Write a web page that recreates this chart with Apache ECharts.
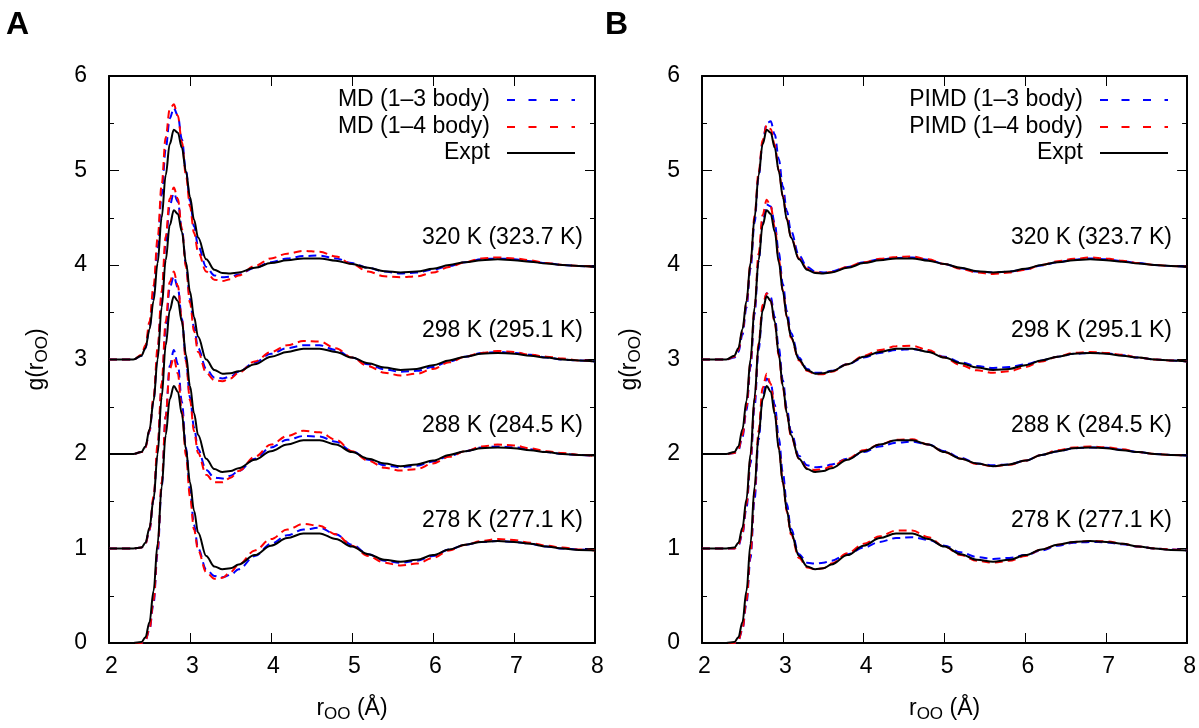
<!DOCTYPE html>
<html>
<head>
<meta charset="utf-8">
<script src="https://cdn.jsdelivr.net/npm/echarts@6/dist/echarts.min.js"></script>
<style>
html,body{margin:0;padding:0;background:#fff;}
#chart{width:1199px;height:728px;}
</style>
</head>
<body>
<div id="chart"></div>
<script>
// r grid (Å)
const R = [2.0, 2.3, 2.4, 2.45, 2.5, 2.55, 2.6, 2.65, 2.7, 2.75, 2.8, 2.85, 2.9, 2.95, 3.0, 3.05, 3.1, 3.2, 3.3, 3.4, 3.5, 3.6, 3.8, 4.0, 4.2, 4.4, 4.6, 4.8, 5.0, 5.2, 5.4, 5.6, 5.8, 6.0, 6.2, 6.4, 6.6, 6.8, 7.0, 7.2, 7.4, 7.6, 7.8, 8.0];

const TEMP_LABELS = ['278 K (277.1 K)', '288 K (284.5 K)', '298 K (295.1 K)', '320 K (323.7 K)'];
const OFFSETS = [0, 1, 2, 3];
const X_TICKS = [2, 3, 4, 5, 6, 7, 8];
const Y_TICKS = [0, 1, 2, 3, 4, 5, 6];

// Experiment
const expt278 = [0,0,0.01,0.06,0.22,0.55,1.05,1.65,2.2,2.58,2.72,2.66,2.42,2.05,1.7,1.4,1.17,0.92,0.81,0.78,0.79,0.83,0.93,1.03,1.11,1.16,1.16,1.1,1.02,0.94,0.88,0.86,0.88,0.93,0.99,1.04,1.07,1.08,1.07,1.05,1.02,1.0,0.985,0.98];
const expt288 = [0,0,0.01,0.06,0.22,0.52,1.0,1.6,2.15,2.52,2.67,2.62,2.4,2.05,1.72,1.43,1.2,0.95,0.84,0.81,0.82,0.85,0.94,1.03,1.1,1.145,1.145,1.1,1.02,0.95,0.9,0.87,0.89,0.93,0.99,1.03,1.06,1.07,1.06,1.04,1.02,1.0,0.99,0.985];
const expt298 = [0,0,0.02,0.08,0.26,0.56,1.0,1.55,2.05,2.42,2.58,2.54,2.35,2.03,1.72,1.45,1.24,1.0,0.89,0.85,0.855,0.875,0.95,1.03,1.08,1.115,1.115,1.08,1.02,0.96,0.915,0.89,0.9,0.94,0.99,1.03,1.06,1.07,1.06,1.04,1.02,1.0,0.99,0.98];
const expt320 = [0,0,0.04,0.12,0.32,0.62,1.02,1.5,1.95,2.28,2.43,2.4,2.24,1.99,1.72,1.48,1.29,1.06,0.95,0.915,0.91,0.92,0.97,1.02,1.05,1.07,1.07,1.045,1.01,0.97,0.935,0.92,0.93,0.96,1.0,1.03,1.05,1.06,1.05,1.035,1.015,1.0,0.99,0.98];

// MD (1-3 body)
const md13_278 = [0,0,0,0.03,0.14,0.42,0.95,1.65,2.4,2.93,3.1,2.95,2.55,2.07,1.62,1.25,1.0,0.78,0.71,0.695,0.72,0.78,0.92,1.05,1.14,1.2,1.22,1.15,1.04,0.94,0.87,0.85,0.87,0.92,0.99,1.04,1.07,1.08,1.07,1.05,1.02,1.0,0.99,0.98];
const md13_288 = [0,0,0.01,0.05,0.19,0.52,1.05,1.7,2.33,2.76,2.88,2.76,2.43,2.0,1.6,1.28,1.05,0.83,0.75,0.74,0.77,0.82,0.95,1.07,1.15,1.19,1.185,1.13,1.03,0.94,0.88,0.86,0.875,0.92,0.98,1.03,1.07,1.08,1.07,1.05,1.02,1.0,0.99,0.98];
const md13_298 = [0,0,0.02,0.07,0.24,0.57,1.07,1.66,2.23,2.63,2.76,2.67,2.38,2.0,1.64,1.34,1.12,0.9,0.81,0.8,0.82,0.87,0.97,1.06,1.12,1.15,1.15,1.1,1.02,0.95,0.895,0.87,0.88,0.92,0.98,1.03,1.07,1.08,1.07,1.05,1.02,1.0,0.99,0.98];
const md13_320 = [0,0,0.04,0.12,0.34,0.7,1.18,1.74,2.23,2.55,2.66,2.58,2.33,2.0,1.68,1.41,1.2,0.98,0.89,0.87,0.875,0.9,0.97,1.03,1.07,1.095,1.1,1.07,1.02,0.97,0.93,0.91,0.92,0.95,0.99,1.03,1.06,1.07,1.06,1.04,1.02,1.0,0.99,0.98];

// MD (1-4 body)
const md14_278 = [0,0,0,0.03,0.15,0.45,1.0,1.7,2.4,2.9,3.02,2.85,2.45,1.98,1.55,1.2,0.98,0.75,0.68,0.69,0.75,0.83,0.98,1.1,1.2,1.26,1.24,1.15,1.03,0.92,0.85,0.82,0.84,0.9,0.98,1.04,1.08,1.1,1.09,1.06,1.03,1.01,0.99,0.98];
const md14_288 = [0,0,0.01,0.05,0.2,0.55,1.1,1.75,2.4,2.82,2.93,2.78,2.42,1.98,1.57,1.24,1.01,0.78,0.7,0.7,0.75,0.82,0.97,1.1,1.19,1.245,1.23,1.15,1.03,0.93,0.855,0.825,0.84,0.9,0.97,1.03,1.08,1.1,1.09,1.06,1.03,1.01,0.99,0.98];
const md14_298 = [0,0,0.02,0.07,0.25,0.6,1.12,1.72,2.3,2.7,2.82,2.7,2.38,1.98,1.6,1.3,1.08,0.86,0.78,0.77,0.8,0.86,0.98,1.08,1.15,1.195,1.19,1.12,1.02,0.93,0.86,0.83,0.85,0.9,0.97,1.03,1.07,1.09,1.08,1.05,1.03,1.01,0.99,0.98];
const md14_320 = [0,0,0.05,0.15,0.4,0.78,1.28,1.85,2.35,2.65,2.7,2.58,2.3,1.95,1.62,1.34,1.14,0.93,0.845,0.83,0.85,0.89,0.99,1.07,1.12,1.15,1.14,1.09,1.01,0.93,0.88,0.87,0.88,0.92,0.98,1.03,1.07,1.08,1.07,1.05,1.02,1.0,0.99,0.98];

// PIMD (1-3 body)
const pimd13_278 = [0,0,0,0.03,0.14,0.42,0.9,1.52,2.15,2.6,2.8,2.75,2.52,2.17,1.8,1.47,1.21,0.94,0.85,0.84,0.85,0.87,0.94,1.01,1.07,1.11,1.12,1.09,1.03,0.96,0.91,0.89,0.9,0.93,0.98,1.03,1.06,1.07,1.065,1.045,1.02,1.0,0.99,0.98];
const pimd13_288 = [0,0,0,0.03,0.15,0.43,0.9,1.5,2.1,2.53,2.7,2.66,2.45,2.12,1.78,1.48,1.24,0.98,0.88,0.86,0.865,0.89,0.95,1.02,1.08,1.12,1.13,1.1,1.03,0.96,0.9,0.88,0.89,0.93,0.99,1.03,1.06,1.07,1.065,1.045,1.02,1.0,0.99,0.985];
const pimd13_298 = [0,0,0.01,0.04,0.18,0.46,0.92,1.48,2.04,2.46,2.64,2.62,2.44,2.13,1.8,1.51,1.28,1.02,0.9,0.86,0.86,0.88,0.95,1.02,1.07,1.1,1.11,1.085,1.03,0.97,0.93,0.91,0.92,0.95,0.99,1.03,1.06,1.07,1.065,1.045,1.02,1.0,0.99,0.98];
const pimd13_320 = [0,0,0.02,0.08,0.26,0.55,0.96,1.45,1.93,2.3,2.5,2.52,2.38,2.12,1.83,1.57,1.36,1.1,0.98,0.93,0.92,0.93,0.98,1.03,1.06,1.075,1.08,1.055,1.01,0.965,0.93,0.92,0.93,0.955,0.995,1.03,1.055,1.07,1.06,1.04,1.02,1.0,0.99,0.98];

// PIMD (1-4 body)
const pimd14_278 = [0,0,0,0.03,0.15,0.45,0.95,1.6,2.25,2.7,2.85,2.74,2.45,2.07,1.7,1.39,1.15,0.9,0.8,0.78,0.79,0.84,0.95,1.05,1.13,1.19,1.19,1.12,1.02,0.93,0.87,0.85,0.87,0.92,0.99,1.04,1.07,1.08,1.075,1.05,1.02,1.0,0.99,0.98];
const pimd14_288 = [0,0,0,0.04,0.17,0.47,0.95,1.57,2.17,2.58,2.7,2.62,2.38,2.04,1.7,1.42,1.19,0.95,0.85,0.83,0.84,0.87,0.95,1.04,1.1,1.15,1.155,1.1,1.02,0.95,0.895,0.87,0.885,0.93,0.99,1.04,1.07,1.08,1.07,1.05,1.02,1.0,0.99,0.985];
const pimd14_298 = [0,0,0.01,0.05,0.2,0.5,0.97,1.55,2.12,2.53,2.69,2.62,2.4,2.06,1.73,1.45,1.23,0.99,0.88,0.845,0.845,0.87,0.95,1.04,1.1,1.14,1.145,1.1,1.02,0.94,0.885,0.86,0.875,0.92,0.98,1.03,1.07,1.08,1.07,1.05,1.02,1.0,0.99,0.98];
const pimd14_320 = [0,0,0.03,0.1,0.3,0.6,1.02,1.52,1.98,2.32,2.48,2.44,2.27,2.0,1.73,1.49,1.3,1.07,0.96,0.92,0.915,0.925,0.98,1.03,1.065,1.085,1.09,1.06,1.01,0.96,0.92,0.905,0.92,0.95,1.0,1.04,1.065,1.08,1.07,1.045,1.02,1.0,0.99,0.98];

const EXPT = [expt278, expt288, expt298, expt320];
const MD13 = [md13_278, md13_288, md13_298, md13_320];
const MD14 = [md14_278, md14_288, md14_298, md14_320];
const PIMD13 = [pimd13_278, pimd13_288, pimd13_298, pimd13_320];
const PIMD14 = [pimd14_278, pimd14_288, pimd14_298, pimd14_320];

const FONT = 'Liberation Sans, Arial, Helvetica, sans-serif';
const BLUE = '#0000ff', RED = '#ff0000', BLACK = '#000000';

function toData(g, off) { return R.map((r, i) => [r, g[i] + off]); }

function lineSeries(name, g, off, color, dashed, axisIdx) {
  return {
    name: name, type: 'line', data: toData(g, off),
    xAxisIndex: axisIdx, yAxisIndex: axisIdx,
    showSymbol: false, symbol: 'none', smooth: 0.35, smoothMonotone: 'x',
    lineStyle: { color: color, width: 2, type: dashed ? [8, 5] : 'solid' },
    itemStyle: { color: color },
    silent: true, animation: false, z: dashed ? 2 : 3
  };
}

const series = [];
[[MD13, MD14, 'MD (1–3 body)', 'MD (1–4 body)', 0], [PIMD13, PIMD14, 'PIMD (1–3 body)', 'PIMD (1–4 body)', 2]].forEach(p => {
  for (let k = 0; k < 4; k++) {
    series.push(lineSeries(p[2], p[0][k], OFFSETS[k], BLUE, true, p[4]));
    series.push(lineSeries(p[3], p[1][k], OFFSETS[k], RED, true, p[4]));
    series.push(lineSeries('Expt', EXPT[k], OFFSETS[k], BLACK, false, p[4]));
  }
});

const grids = [
  { left: 109, top: 76, width: 486, height: 570 },
  { left: 702, top: 76, width: 486, height: 570 }
];

function xAx(gi, pos) {
  const main = pos === 'bottom';
  return {
    type: 'value', gridIndex: gi, position: pos, min: 2, max: 8, interval: 1,
    name: main ? '{a|r}{s|OO}{a| (Å)}' : '', nameLocation: 'middle', nameGap: 51,
    nameTextStyle: { fontFamily: FONT, color: '#000',
      rich: { a: { fontSize: 23, fontFamily: FONT, color: '#000' },
              s: { fontSize: 17, fontFamily: FONT, color: '#000', padding: [12, 0, 0, 0] } } },
    axisLine: { show: true, onZero: false, lineStyle: { color: '#000', width: 2 } },
    axisTick: { show: true, inside: true, length: 10, lineStyle: { color: '#000', width: 1 } },
    axisLabel: { show: main, fontSize: 23, fontFamily: FONT, color: '#000', margin: 12, padding: [0, 0, 0, 5] },
    splitLine: { show: false }
  };
}
function yAx(gi, pos) {
  const main = pos === 'left';
  return {
    type: 'value', gridIndex: gi, position: pos, min: 0, max: 6, interval: 1,
    name: main ? '{a|g(r}{s|OO}{a|)}' : '', nameLocation: 'middle', nameGap: 58, nameRotate: 90,
    nameTextStyle: { fontFamily: FONT, color: '#000',
      rich: { a: { fontSize: 23, fontFamily: FONT, color: '#000' },
              s: { fontSize: 17, fontFamily: FONT, color: '#000', padding: [12, 0, 0, 0] } } },
    axisLine: { show: true, onZero: false, lineStyle: { color: '#000', width: 2 } },
    axisTick: { show: true, inside: true, length: 10, lineStyle: { color: '#000', width: 1 } },
    minorTick: { show: true, splitNumber: 2, length: 5, lineStyle: { color: '#000', width: 1 } },
    axisLabel: { show: main, fontSize: 23, fontFamily: FONT, color: '#000', margin: 22 },
    splitLine: { show: false }
  };
}

// legend sample shapes (68 px wide, 2 px tall)
const DASH_ICON = 'path://M0,0h8v2h-8z M21.5,0h8v2h-8z M43,0h8v2h-8z M64.5,0h3.5v2h-3.5z';
const SOLID_ICON = 'rect';

function legendFor(name, icon, right, top) {
  return {
    data: [{ name: name, icon: icon }], right: right, top: top, orient: 'vertical', align: 'right',
    padding: 0, itemWidth: 68, itemHeight: 2, selectedMode: false,
    textStyle: { fontSize: 23, fontFamily: FONT, color: '#000', padding: [0, 12, 0, 0], lineHeight: 26 }
  };
}

const legends = [
  legendFor('MD (1–3 body)', DASH_ICON, 624, 87), legendFor('MD (1–4 body)', DASH_ICON, 624, 114), legendFor('Expt', SOLID_ICON, 624, 140),
  legendFor('PIMD (1–3 body)', DASH_ICON, 31, 87), legendFor('PIMD (1–4 body)', DASH_ICON, 31, 114), legendFor('Expt', SOLID_ICON, 31, 140)
];

const LABEL_Y = [521, 426, 331, 238];
const graphics = [
  { type: 'text', left: 6, top: 9, style: { text: 'A', font: 'bold 32px ' + FONT, fill: '#000' } },
  { type: 'text', left: 605, top: 9, style: { text: 'B', font: 'bold 32px ' + FONT, fill: '#000' } }
];
TEMP_LABELS.forEach((t, k) => {
  [583, 1172].forEach(xr => {
    graphics.push({ type: 'text', x: xr, y: LABEL_Y[k],
      style: { text: t, font: '23px ' + FONT, fill: '#000', textAlign: 'right', textVerticalAlign: 'middle' } });
  });
});

const chart = echarts.init(document.getElementById('chart'), null, { renderer: 'canvas' });
chart.setOption({
  animation: false,
  backgroundColor: '#fff',
  grid: grids,
  xAxis: [xAx(0, 'bottom'), xAx(0, 'top'), xAx(1, 'bottom'), xAx(1, 'top')],
  yAxis: [yAx(0, 'left'), yAx(0, 'right'), yAx(1, 'left'), yAx(1, 'right')],
  legend: legends,
  graphic: graphics,
  series: series
});
</script>
</body>
</html>
